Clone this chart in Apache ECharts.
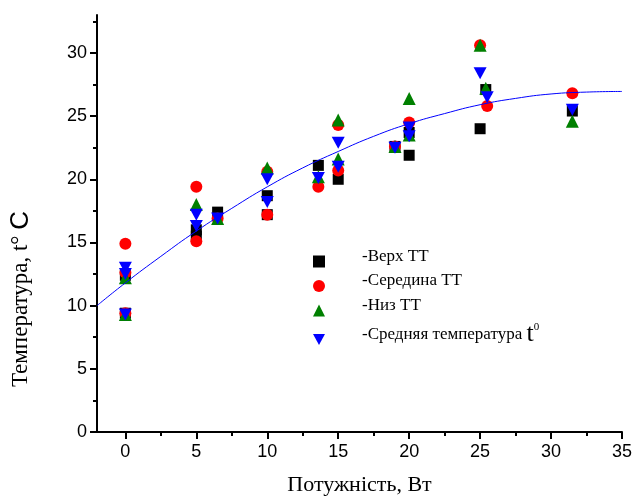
<!DOCTYPE html>
<html>
<head>
<meta charset="utf-8">
<script src="https://cdn.jsdelivr.net/npm/echarts@6/dist/echarts.min.js"></script>
<style>
  html, body { margin: 0; padding: 0; background: #fff; }
  #chart { width: 633px; height: 496px; }
</style>
</head>
<body>
<div id="chart"></div>
<script>
  // tick labels
  var xTicks = [0, 5, 10, 15, 20, 25, 30, 35];
  var xMinorTicks = [2.5, 7.5, 12.5, 17.5, 22.5, 27.5, 32.5];
  var yTicks = [0, 5, 10, 15, 20, 25, 30];
  var yMinorTicks = [2.5, 7.5, 12.5, 17.5, 22.5, 27.5, 32.5];

  // measured points [power, temperature]
  var verkh = [[0, 12.4], [0, 9.4], [5, 16.0], [5, 15.5], [6.5, 17.4], [10, 18.7], [10, 17.2],
    [13.6, 21.1], [15, 20.0], [19, 22.6], [20, 23.7], [20, 21.9], [25.4, 27.1], [25, 24.0], [31.5, 25.4]];
  var seredyna = [[0, 14.9], [0, 12.6], [0, 9.4], [5, 19.4], [5, 15.1], [6.5, 16.9], [10, 20.6], [10, 17.2],
    [13.6, 19.4], [15, 24.3], [15, 20.7], [19, 22.6], [20, 24.5], [25, 30.6], [25.5, 25.8], [31.5, 26.8]];
  var nyz = [[0, 12.2], [0, 9.3], [5, 18.0], [6.5, 16.9], [10, 20.9], [13.6, 20.2], [15, 24.7], [15, 21.6],
    [19, 22.6], [20, 26.4], [20, 23.5], [25, 30.6], [25.4, 27.2], [31.5, 24.6]];
  var serednia = [[0, 13.0], [0, 12.5], [0, 9.3], [5, 17.2], [5, 16.3], [6.5, 16.9], [10, 20.0], [10, 18.2],
    [13.6, 20.1], [15, 22.9], [15, 21.0], [19, 22.5], [20, 24.1], [20, 23.4], [25, 28.4], [25.5, 26.5], [31.5, 25.5]];

  // fitted curve
  var fitX = [-2, 0, 2.5, 5, 7.5, 10, 12.5, 15, 17.5, 20, 22.5, 25, 27.5, 30, 32.5, 35];
  var fitY = [10.0, 11.8, 13.9, 15.9, 17.7, 19.4, 20.9, 22.2, 23.4, 24.4, 25.2, 25.9, 26.4, 26.75, 26.9, 26.95];

  var downTri = 'path://M0,0 L10,0 L5,9 Z';
  var serif = 'Liberation Serif';
  var sans = 'Liberation Sans';

  var chart = echarts.init(document.getElementById('chart'));

  chart.setOption({
    animation: false,
    grid: { left: 97, right: 11, top: 15, bottom: 64, outerBoundsMode: 'none', containLabel: false },
    xAxis: [{
      type: 'value', min: -2, max: 35,
      name: 'Потужність, Вт', nameLocation: 'middle', nameGap: 42,
      nameTextStyle: { fontFamily: serif, fontSize: 22, color: '#000' },
      axisLine: { onZero: false, lineStyle: { color: '#000', width: 2 } },
      axisTick: { customValues: xTicks, length: 7, inside: false, lineStyle: { color: '#000', width: 2 } },
      axisLabel: { customValues: xTicks, margin: 11, fontFamily: sans, fontSize: 18, color: '#000' },
      splitLine: { show: false }
    }, {
      type: 'value', min: -2, max: 35, position: 'bottom', offset: 0,
      axisLine: { show: false, onZero: false },
      axisTick: { customValues: xMinorTicks, length: 4, lineStyle: { color: '#000', width: 2 } },
      axisLabel: { show: false },
      splitLine: { show: false }
    }],
    yAxis: [{
      type: 'value', min: 0, max: 33,
      axisLine: { show: true, onZero: false, lineStyle: { color: '#000', width: 2 } },
      axisTick: { show: true, customValues: yTicks, length: 7, lineStyle: { color: '#000', width: 2 } },
      axisLabel: { customValues: yTicks, margin: 10, fontFamily: sans, fontSize: 18, color: '#000' },
      splitLine: { show: false }
    }, {
      type: 'value', min: 0, max: 33, position: 'left', offset: 0,
      axisLine: { show: false, onZero: false },
      axisTick: { show: true, customValues: yMinorTicks, length: 4, lineStyle: { color: '#000', width: 2 } },
      axisLabel: { show: false },
      splitLine: { show: false }
    }],
    graphic: [{
      type: 'text',
      x: 21, y: 299,
      rotation: Math.PI / 2,
      style: {
        text: 'Температура, t° {c|C}',
        fontFamily: serif, fontSize: 23, fill: '#000',
        align: 'center', verticalAlign: 'middle',
        rich: { c: { fontFamily: sans, fontSize: 26, fill: '#000' } }
      }
    }],
    legend: {
      orient: 'vertical',
      left: 308, top: 243,
      itemWidth: 12, itemHeight: 12, itemGap: 5,
      data: ['Верх ТТ', 'Середина ТТ', 'Низ ТТ', 'Средняя температура'],
      formatter: function (name) {
        if (name === 'Средняя температура') return '-Средняя температура {t|t}{s|0}';
        return '-' + name;
      },
      textStyle: {
        fontFamily: serif, fontSize: 17, color: '#000',
        padding: [0, 0, 10, 32],
        rich: {
          t: { fontFamily: serif, fontSize: 26, color: '#000' },
          s: { fontFamily: serif, fontSize: 11, color: '#000', verticalAlign: 'top', padding: [0, 0, 12, 0] }
        }
      }
    },
    series: [{
      name: 'fit', type: 'line', smooth: true, showSymbol: false, symbol: 'none',
      data: fitX.map(function (x, i) { return [x, fitY[i]]; }),
      lineStyle: { color: '#0000ff', width: 1 },
      silent: true
    }, {
      name: 'Верх ТТ', type: 'scatter', symbol: 'rect', symbolSize: 11,
      itemStyle: { color: '#000000', opacity: 1 }, data: verkh
    }, {
      name: 'Середина ТТ', type: 'scatter', symbol: 'circle', symbolSize: 12,
      itemStyle: { color: '#ff0000', opacity: 1 }, data: seredyna
    }, {
      name: 'Низ ТТ', type: 'scatter', symbol: 'triangle', symbolSize: 13,
      itemStyle: { color: '#008000', opacity: 1 }, data: nyz
    }, {
      name: 'Средняя температура', type: 'scatter', symbol: downTri, symbolSize: [13, 12],
      itemStyle: { color: '#0000ff', opacity: 1 }, data: serednia
    }]
  });
</script>
</body>
</html>
